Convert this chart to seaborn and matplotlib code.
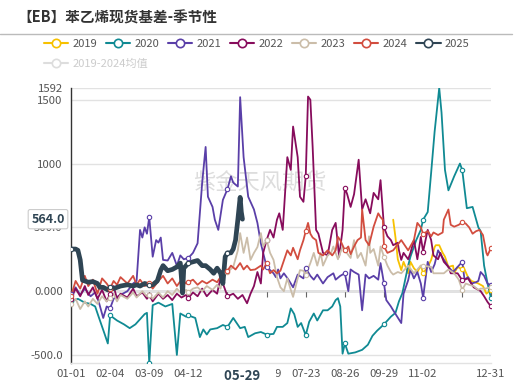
import numpy as np
import pandas as pd
import matplotlib
matplotlib.use("Agg")
import matplotlib.pyplot as plt
import seaborn as sns
from matplotlib.lines import Line2D
import matplotlib.transforms as mtrans

# ---------------- data (day index of a leap-year calendar, value) ----------------
s2019 = [(280,560),(282,420),(284,250),(287,165),(289,230),(293,140),(295,230),(298,180),(301,150),(304,200),
         (306,140),(310,190),(313,245),(316,345),(317,360),(320,360),(323,300),(325,270),(328,190),(332,200),
         (333,140),(336,190),(340,170),(341,190),(345,110),(348,80),(354,60),(358,40),(361,-20),(365,10)]

s2020 = [(0,-80),(6,-60),(12,-90),(17,-100),(21,-120),(24,-200),(29,-330),(32,-410),(34,-190),(40,-230),
         (46,-260),(51,-290),(56,-260),(60,-220),(64,-180),(66,-170),(68,-563),(71,-110),(76,-90),(82,-120),
         (88,-100),(92,-500),(95,-175),(100,-200),(102,-190),(108,-210),(112,-360),(115,-300),(118,-340),(121,-300),
         (127,-290),(132,-265),(136,-280),(141,-210),(147,-290),(151,-280),(154,-360),(160,-330),(165,-320),(170,-340),
         (176,-335),(179,-280),(184,-280),(188,-250),(191,-135),(194,-180),(197,-280),(200,-250),(204,-345),(207,-240),
         (211,-175),(214,-230),(219,-150),(223,-150),(227,-120),(230,-70),(232,-55),(234,-120),(236,-490),(238,-410),
         (241,-490),(247,-480),(253,-460),(258,-420),(262,-350),(266,-310),(272,-260),(278,-200),(282,-170),(285,-80),
         (288,-15),(293,200),(295,270),(300,400),(304,480),(306,560),(310,620),(313,930),(316,1250),(320,1592),
         (322,1400),(325,950),(328,790),(333,900),(336,960),(338,1000),(340,950),(344,650),(349,660),(354,500),
         (356,470),(359,200),(362,60),(365,-55)]

s2021 = [(0,-20),(4,30),(8,-30),(12,20),(17,-40),(21,-10),(24,-80),(28,-210),(31,-120),(34,-135),(37,-60),
         (43,-30),(49,0),(54,60),(57,80),(60,480),(62,420),(64,500),(66,450),(68,580),(71,270),(74,400),(76,380),
         (78,420),(80,245),(84,240),(88,300),(92,200),(95,280),(98,250),(102,260),(106,300),(110,375),(114,850),
         (117,1130),(119,740),(123,660),(125,560),(128,480),(132,715),(136,800),(139,900),(141,850),(145,820),
         (147,1520),(150,1050),(154,740),(159,640),(162,535),(165,375),(167,300),(170,190),(176,140),(178,110),
         (180,170),(182,100),(185,140),(189,90),(193,30),(197,130),(202,100),(204,180),(208,120),(211,90),(214,130),
         (219,60),(223,110),(228,140),(230,90),(234,120),(238,140),(241,0),(243,170),(246,150),(250,130),(253,-150),
         (256,130),(259,100),(263,120),(267,90),(269,220),(272,60),(274,-70),(278,-120),(280,-150),(287,-250),
         (289,-20),(293,85),(295,170),(298,100),(301,150),(304,60),(306,-50),(310,230),(313,150),(316,210),(319,320),
         (321,290),(328,190),(332,150),(336,190),(340,230),(342,90),(345,110),(348,60),(352,70),(354,80),(356,150),
         (359,120),(362,60),(365,45)]

s2022 = [(0,-60),(4,20),(8,-40),(12,40),(15,-30),(19,30),(23,-60),(27,10),(31,-80),(34,-20),(37,40),(40,-60),
         (43,-20),(49,-50),(54,20),(57,-40),(62,-10),(66,-60),(68,-30),(71,-80),(76,-20),(80,-60),(84,-30),(88,-70),
         (92,-20),(96,-50),(100,-30),(102,-55),(106,-10),(110,-40),(114,20),(118,-40),(123,10),(127,-20),(130,110),
         (132,60),(136,-40),(141,-20),(145,-60),(149,-30),(153,-95),(156,-20),(159,40),(162,150),(165,60),(167,300),
         (170,400),(173,480),(176,420),(179,560),(181,610),(184,480),(185,620),(188,1050),(191,950),(193,1290),
         (197,1050),(199,740),(202,700),(204,900),(206,1525),(208,1500),(210,1130),(213,480),(215,450),(219,300),
         (223,280),(227,480),(230,535),(233,270),(236,480),(238,810),(240,760),(243,660),(246,760),(250,1030),
         (253,640),(256,720),(260,610),(263,770),(267,720),(269,870),(272,500),(275,430),(278,400),(280,360),
         (284,380),(285,320),(287,245),(289,300),(293,250),(295,300),(298,400),(301,250),(304,425),(306,310),
         (310,480),(313,400),(315,280),(319,250),(321,300),(324,230),(328,190),(330,140),(336,140),(340,85),
         (345,100),(350,30),(356,0),(359,-40),(362,-85),(365,-120)]

s2023 = [(0,-100),(4,-60),(8,-140),(12,-80),(15,-120),(19,-60),(23,-100),(27,-40),(31,-80),(34,-50),(37,-20),
         (40,-80),(43,-30),(49,-60),(54,-10),(57,-50),(62,0),(66,-40),(68,-30),(71,-60),(76,-10),(80,-50),(84,0),
         (88,-30),(92,20),(96,-20),(100,10),(102,-10),(106,20),(110,30),(114,0),(118,40),(123,10),(127,50),(130,20),
         (132,110),(136,150),(141,190),(145,320),(147,455),(150,300),(153,420),(156,245),(159,300),(162,345),
         (165,455),(167,350),(170,400),(173,300),(176,245),(179,110),(182,30),(185,0),(188,100),(191,10),(193,-45),
         (197,100),(199,165),(202,160),(204,130),(208,220),(211,300),(214,200),(217,300),(219,200),(223,280),
         (226,300),(228,350),(232,250),(234,300),(236,350),(238,320),(243,260),(246,400),(249,260),(252,300),
         (256,200),(259,430),(260,300),(263,330),(267,200),(269,350),(272,270),(275,200),(278,150),(280,130),
         (284,150),(287,140),(293,200),(298,140),(304,200),(306,200),(313,190),(315,140),(319,140),(324,140),
         (328,170),(333,140),(337,90),(340,10),(343,60),(346,50),(350,40),(354,10),(356,20),(360,20),(365,30)]

s2024 = [(0,-40),(4,80),(8,20),(12,120),(15,40),(19,90),(23,-20),(27,100),(31,60),(34,20),(37,80),(40,50),
         (43,110),(49,60),(54,120),(57,50),(60,90),(64,40),(68,60),(71,20),(76,80),(80,120),(84,60),(88,100),
         (92,40),(96,90),(100,60),(102,70),(106,90),(110,50),(114,80),(118,60),(123,90),(127,70),(132,140),
         (136,160),(139,200),(143,170),(147,220),(150,170),(153,200),(156,165),(160,170),(165,200),(167,170),
         (170,220),(173,140),(176,165),(179,140),(182,160),(185,240),(188,320),(191,280),(193,340),(197,250),
         (199,320),(202,400),(204,470),(206,535),(208,450),(210,420),(213,400),(215,300),(219,280),(223,320),
         (227,280),(230,320),(232,425),(234,400),(238,320),(241,350),(243,290),(246,350),(249,400),(252,420),
         (253,640),(256,400),(259,360),(263,505),(267,610),(269,580),(271,560),(272,350),(275,300),(280,320),
         (287,400),(293,320),(298,400),(301,535),(304,500),(306,450),(310,470),(313,430),(315,460),(319,440),
         (323,460),(324,560),(328,640),(330,520),(333,505),(337,520),(340,540),(343,530),(346,500),(349,450),
         (352,470),(355,480),(358,440),(361,300),(362,280),(365,340)]

s2025 = [(0,330),(4,330),(6,320),(8,245),(10,85),(12,80),(15,70),(19,75),(23,60),(25,30),(28,30),(32,10),
         (34,30),(37,20),(40,30),(43,40),(49,50),(54,40),(57,50),(60,40),(64,60),(68,50),(71,50),(75,80),
         (78,165),(80,200),(84,160),(88,170),(92,190),(95,220),(97,-15),(98,180),(102,220),(106,230),(110,240),
         (114,200),(117,200),(121,170),(124,140),(127,180),(130,140),(132,60),(134,270),(136,300),(139,300),
         (141,330),(143,400),(145,560),(147,735),(148,620),(149,564)]

years = ["2019", "2020", "2021", "2022", "2023", "2024", "2025"]
series = [s2019, s2020, s2021, s2022, s2023, s2024, s2025]
mean_label = "2019-2024均值"

tick_days = [0, 34, 68, 102, 136, 170, 204, 238, 272, 306, 340, 365]
tick_labels = ["01-01", "02-04", "03-09", "04-12", "05-16", "06-19", "07-23", "08-26", "09-29", "11-02", "", "12-31"]
y_ticks = [-500, 0, 500, 1000, 1500, 1592]
y_labels = ["-500.0", "0.000", "500.0", "1000", "1500", "1592"]
y_min, y_max = -563, 1592
pointer_day, pointer_label = 149, "05-29"
pointer_value = 564.0

# ---------------- styling ----------------
palette = {"2019": "#f7c100", "2020": "#108a93", "2021": "#5a3fa8", "2022": "#870c5c",
           "2023": "#cbbda9", "2024": "#d24d3f", "2025": "#2f4554"}
widths = {y: 1.3 for y in years}
widths["2025"] = 3.4

sns.set_style("white")
plt.rcParams["font.family"] = ["Noto Sans CJK SC", "DejaVu Sans"]

rows = []
for yr, s in zip(years, series):
    for d, v in s:
        rows.append((yr, d, v))
df = pd.DataFrame(rows, columns=["year", "day", "value"])

fig = plt.figure(figsize=(5.2, 3.86), dpi=100)
ax = fig.add_axes([71 / 520, 23 / 386, 420 / 520, 275 / 386])

sns.lineplot(data=df, x="day", y="value", hue="year", size="year", sizes=widths,
             palette=palette, estimator=None, sort=False, legend=False, ax=ax, zorder=3)

mk = df[df["day"].isin(tick_days)]
for yr in years:
    sub = mk[mk["year"] == yr]
    sns.scatterplot(data=sub, x="day", y="value", color=palette[yr], facecolor="white",
                    edgecolor=palette[yr], s=10, linewidth=0.8, ax=ax, zorder=4, legend=False)

ax.set_xlim(0, 365)
ax.set_ylim(y_min, y_max)
ax.set_xticks(tick_days)
ax.set_xticklabels(tick_labels)
ax.set_yticks(y_ticks)
ax.set_yticklabels(y_labels)
ax.set_xlabel("")
ax.set_ylabel("")
ax.tick_params(axis="x", length=0, pad=4, labelsize=8.2, labelcolor="#555555")
ax.tick_params(axis="y", length=4, width=0.8, color="#333333", pad=2, labelsize=8.2, labelcolor="#555555")
ax.grid(axis="y", color="#e2e2e2", lw=1)
ax.grid(axis="x", visible=False)
for side in ["top", "right"]:
    ax.spines[side].set_visible(False)
ax.spines["left"].set_color("#333333")
ax.spines["left"].set_linewidth(1)
ax.spines["bottom"].set_color("#e2e2e2")
ax.spines["bottom"].set_linewidth(1)

# zero axis line with ticks
zero_frac = (0 - y_min) / (y_max - y_min)
sec = ax.secondary_xaxis(zero_frac)
sec.set_xticks(tick_days)
sec.set_xticklabels([""] * len(tick_days))
sec.tick_params(axis="x", length=4, width=0.8, color="#666666", direction="out")
sec.spines["bottom"].set_color("#666666")
sec.spines["bottom"].set_linewidth(1)

# watermark
ax.text(0.45, 0.655, "紫金天风期货", transform=ax.transAxes, ha="center", va="center",
        fontsize=16, color="#dddddd", zorder=0.5)

# axis pointer labels
trans = mtrans.blended_transform_factory(ax.transData, ax.transAxes)
ax.text(pointer_day, -0.02, "    " + pointer_label + "    ", transform=trans, ha="center", va="top",
        fontsize=9.5, fontweight="bold", color="#2f4554", zorder=10, clip_on=False,
        bbox=dict(boxstyle="square,pad=0.25", facecolor="white", edgecolor="none"))
trans2 = mtrans.blended_transform_factory(ax.transAxes, ax.transData)
ax.text(-0.015, pointer_value, f"{pointer_value:.1f}", transform=trans2, ha="right", va="center",
        fontsize=9, fontweight="bold", color="#2f4554", zorder=10, clip_on=False,
        bbox=dict(boxstyle="round,pad=0.25,rounding_size=0.15", facecolor="white", edgecolor="#cccccc", lw=0.8))

# title and separator
fig.text(17 / 520, 1 - 18 / 386, "【EB】苯乙烯现货基差-季节性", fontsize=10.5, fontweight="bold",
         color="#333333", va="center", ha="left")
fig.add_artist(Line2D([0, 512 / 520], [1 - 34 / 386] * 2, color="#bbbbbb", lw=1, transform=fig.transFigure))

# legends
handles = [Line2D([0], [0], color=palette[y], lw=1.5, marker="o", markersize=6,
                  markerfacecolor="white", markeredgecolor=palette[y], markeredgewidth=1.2) for y in years]
leg1 = fig.legend(handles, years, ncol=7, loc="center left", bbox_to_anchor=(44 / 520, 1 - 44 / 386),
                  frameon=False, fontsize=8, handlelength=2.2, handletextpad=0.35, columnspacing=0.8,
                  borderaxespad=0, borderpad=0)
for t in leg1.get_texts():
    t.set_color("#555555")
h2 = [Line2D([0], [0], color="#dddddd", lw=1.5, marker="o", markersize=6,
             markerfacecolor="white", markeredgecolor="#dddddd", markeredgewidth=1.2)]
leg2 = fig.legend(h2, [mean_label], loc="center left", bbox_to_anchor=(44 / 520, 1 - 64 / 386),
                  frameon=False, fontsize=8, handlelength=2.2, handletextpad=0.35,
                  borderaxespad=0, borderpad=0)
for t in leg2.get_texts():
    t.set_color("#cccccc")

fig.savefig("out.png", dpi=100)
